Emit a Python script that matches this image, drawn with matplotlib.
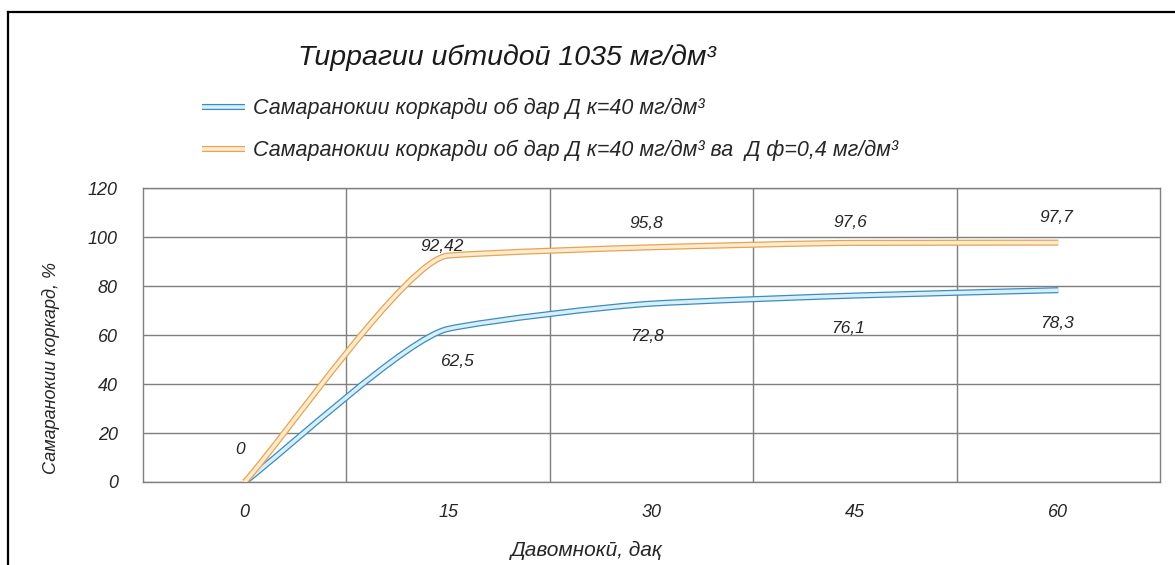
import matplotlib
matplotlib.use('Agg')
import matplotlib.pyplot as plt
import numpy as np
from matplotlib.path import Path
from matplotlib.patches import PathPatch
from matplotlib.lines import Line2D
import matplotlib.patheffects as pe

# ---------------- data ----------------
categories = ['0', '15', '30', '45', '60']
series_k = [0, 62.5, 72.8, 76.1, 78.3]
series_kf = [0, 92.42, 95.8, 97.6, 97.7]
label_k = 'Самаранокии коркарди об дар Д к=40 мг/дм³'
label_kf = 'Самаранокии коркарди об дар Д к=40 мг/дм³ ва  Д ф=0,4 мг/дм³'
title_text = 'Тиррагии ибтидоӣ 1035 мг/дм³'
xlabel_text = 'Давомнокӣ, дақ'
ylabel_text = 'Самаранокии коркард, %'
yticks = [0, 20, 40, 60, 80, 100, 120]

# data-label offsets (pixels, +down); None = label hidden behind tick label
kf_dx = [-5, -6, -5, -5, -2]
kf_dy = [-32, -9, -24, -20, -25]
k_dx = [None, 9, -4, -7, -1]
k_dy = [None, 33, 33, 33, 33]

def fmt(v):
    return ('%g' % v).replace('.', ',')

W, H = 1175, 565
FONT = ['Liberation Sans', 'DejaVu Sans']
plt.rcParams['font.family'] = FONT
plt.rcParams['font.style'] = 'italic'
TXT = '#262626'

fig = plt.figure(figsize=(W / 100, H / 100), dpi=100)
fig.patch.set_facecolor('white')

L, R, B, T = 143, 1160, 482, 188
ax = fig.add_axes([L / W, 1 - B / H, (R - L) / W, (B - T) / H])
x = np.arange(len(categories))
ax.set_xlim(-0.5, len(categories) - 0.5)
ax.set_ylim(0, 120)
ax.set_xticks(x)
ax.set_xticklabels(categories)
ax.set_xticks(x[:-1] + 0.5, minor=True)
ax.set_yticks(yticks)
ax.grid(axis='x', which='minor', color='#7f7f7f', lw=1)
ax.grid(axis='y', which='major', color='#7f7f7f', lw=1)
ax.grid(axis='x', which='major', visible=False)
ax.tick_params(axis='both', which='both', length=0, labelsize=13, colors=TXT)
ax.tick_params(axis='y', pad=18)
ax.tick_params(axis='x', pad=16)
for s in ax.spines.values():
    s.set_color('#7f7f7f')
    s.set_linewidth(1)
ax.set_axisbelow(True)


def smooth_path(xs, ys, arm=0.2):
    """Smoothed line through the data points (monotone tangents, short arms)."""
    xs = np.asarray(xs, float)
    ys = np.asarray(ys, float)
    n = len(xs)
    sec = np.diff(ys) / np.diff(xs)
    m = np.zeros(n)
    m[0] = sec[0]
    m[-1] = sec[-1]
    for i in range(1, n - 1):
        a, b = sec[i - 1], sec[i]
        m[i] = 0.0 if a * b <= 0 else 2 * a * b / (a + b)
    verts = [(xs[0], ys[0])]
    codes = [Path.MOVETO]
    for i in range(n - 1):
        h = xs[i + 1] - xs[i]
        d = arm * h
        verts += [(xs[i] + d, ys[i] + m[i] * d),
                  (xs[i + 1] - d, ys[i + 1] - m[i + 1] * d),
                  (xs[i + 1], ys[i + 1])]
        codes += [Path.CURVE4] * 3
    return Path(verts, codes)


styles = [
    (series_k, label_k, '#3b8cbf', '#d8effa'),
    (series_kf, label_kf, '#e6a450', '#fdebd0'),
]
handles = []
for z, (ser, lab, outer, inner) in enumerate(styles):
    patch = PathPatch(smooth_path(x, ser), facecolor='none', edgecolor=inner,
                      lw=2.6, capstyle='butt', zorder=3 + z,
                      path_effects=[pe.Stroke(linewidth=4.4, foreground=outer), pe.Normal()])
    ax.add_patch(patch)
    h = Line2D([], [], color=inner, lw=2.6, solid_capstyle='butt',
               path_effects=[pe.Stroke(linewidth=4.4, foreground=outer), pe.Normal()])
    handles.append((h, lab))

for ser, dxs, dys in [(series_kf, kf_dx, kf_dy), (series_k, k_dx, k_dy)]:
    for i, v in enumerate(ser):
        if dxs[i] is None:
            continue
        ax.annotate(fmt(v), (x[i], v), xytext=(dxs[i] * 0.72, -dys[i] * 0.72),
                    textcoords='offset points', ha='center', va='center',
                    fontsize=12.5, color=TXT, zorder=6)

# titles & labels
fig.text(507 / W, 1 - 58 / H, title_text, ha='center', va='center', fontsize=20.5, color='#1a1a1a')
fig.text(587 / W, 1 - 550 / H, xlabel_text, ha='center', va='center', fontsize=15, color=TXT)
fig.text(51 / W, 1 - 368 / H, ylabel_text, ha='center', va='center', rotation=90,
         fontsize=13, color=TXT)

# legend
leg = fig.legend([h for h, _ in handles], [l for _, l in handles], loc='upper left',
                 bbox_to_anchor=(202 / W, 1 - 98 / H), frameon=False, fontsize=15.5,
                 handlelength=2.0, handletextpad=0.35, labelspacing=0.95,
                 borderpad=0, borderaxespad=0)
for t in leg.get_texts():
    t.set_color(TXT)

# outer frame (left and top visible)
fig.add_artist(Line2D([8 / W, 8 / W], [0, 1 - 12 / H], transform=fig.transFigure, color='black', lw=1.6))
fig.add_artist(Line2D([8 / W, 1], [1 - 12 / H, 1 - 12 / H], transform=fig.transFigure, color='black', lw=1.6))

fig.savefig('out.png', dpi=100)
